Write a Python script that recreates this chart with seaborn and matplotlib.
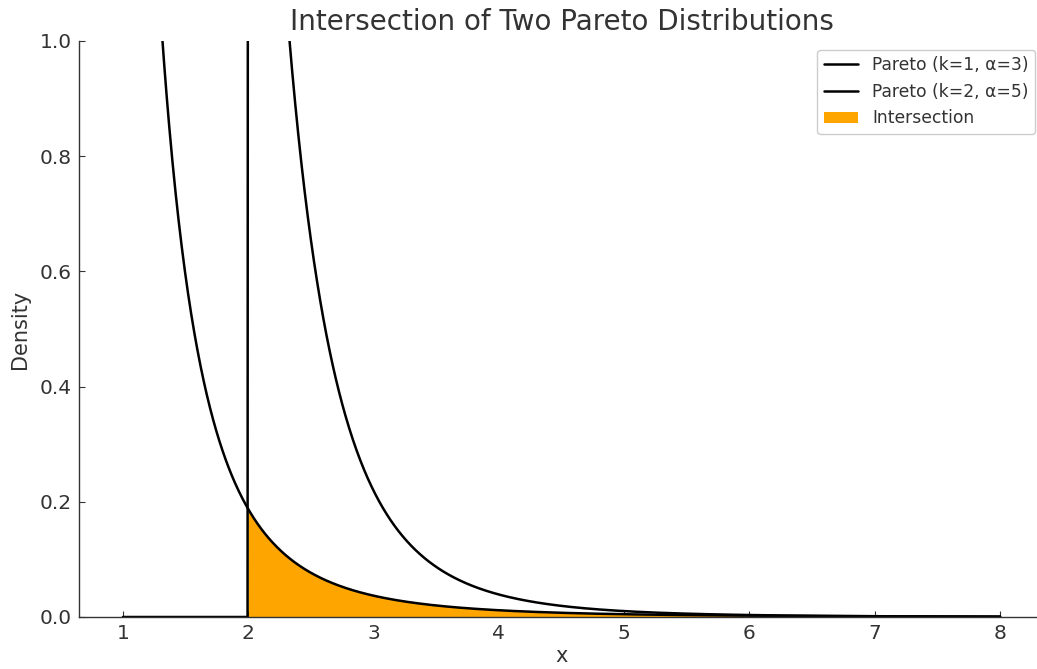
import numpy as np
import pandas as pd
import matplotlib
matplotlib.use("Agg")
import matplotlib.pyplot as plt
import seaborn as sns

# Distribution parameters (from legend)
scales = [1, 2]      # k
shapes = [3, 5]      # alpha
labels = ["Pareto (k=1, α=3)", "Pareto (k=2, α=5)"]
x_range = [1, 8]
fill_label = "Intersection"
title = "Intersection of Two Pareto Distributions"
xlabel = "x"
ylabel = "Density"

def pareto_pdf(x, k, a):
    return np.where(x >= k, a * k**a / np.power(x, a + 1), 0.0)

sns.set_style("ticks")
plt.rcParams["font.family"] = ["DejaVu Sans"]
plt.rcParams["text.color"] = "#333333"
plt.rcParams["axes.labelcolor"] = "#333333"
plt.rcParams["xtick.color"] = "#333333"
plt.rcParams["ytick.color"] = "#333333"
plt.rcParams["xtick.direction"] = "in"
plt.rcParams["ytick.direction"] = "in"

x = np.linspace(x_range[0], x_range[1], 1401)
y1 = pareto_pdf(x, scales[0], shapes[0])
y2 = pareto_pdf(x, scales[1], shapes[1])
df = pd.DataFrame({"x": np.concatenate([x, x]),
                   "y": np.concatenate([y1, y2]),
                   "dist": [labels[0]] * len(x) + [labels[1]] * len(x)})

fig = plt.figure(figsize=(10.37, 6.69), dpi=100)
ax = fig.add_axes([79 / 1037, 1 - 617 / 669, (1044 - 79) / 1037, (617 - 41) / 669])

sns.lineplot(data=df, x="x", y="y", hue="dist", palette=["black", "black"],
             linewidth=1.8, ax=ax, sort=False, estimator=None)
ymin = np.minimum(y1, y2)
ax.fill_between(x, ymin, 0, where=(x >= scales[1]), color="orange",
                label=fill_label, linewidth=0)

ax.set_ylim(0, 1)
ax.set_xlim(0.65, 8.35)
ax.set_title(title, fontsize=20, color="#333333", pad=8)
ax.set_xlabel(xlabel, fontsize=15, labelpad=2)
ax.set_ylabel(ylabel, fontsize=15, labelpad=7)
ax.tick_params(labelsize=14.5, length=4, width=0.8, pad=5)
for s in ["left", "bottom"]:
    ax.spines[s].set_color("#333333")
    ax.spines[s].set_linewidth(1.0)
sns.despine(ax=ax)

handles, labs = ax.get_legend_handles_labels()
ax.legend(handles, labs, loc="upper right", fontsize=12.3, frameon=True,
          framealpha=1, edgecolor="#cccccc", fancybox=True)

fig.savefig("out.png", dpi=100)
